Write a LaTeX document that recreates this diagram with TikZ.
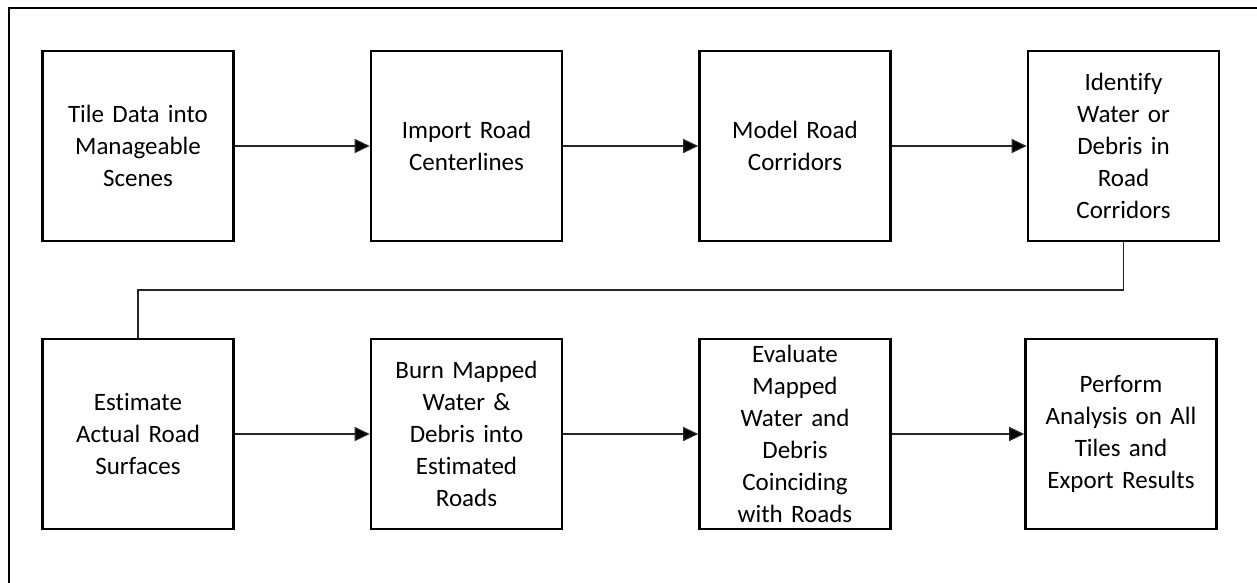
\documentclass[tikz,border=0pt]{standalone}
\usepackage{fontspec}
\setmainfont{Carlito}[Ligatures={NoCommon}]
\usetikzlibrary{arrows.meta}
\tikzset{
  stepbox/.style={draw=black, line width=2.6pt, fill=white,
    minimum width=191pt, minimum height=190pt, inner sep=4pt,
    align=center, text width=180pt,
    font=\fontsize{25}{32}\selectfont},
  flow/.style={draw=black!85, line width=1.2pt,
    -{Triangle[length=15pt,width=14pt,fill=black]}},
  link/.style={draw=black!85, line width=1.2pt}
}
\begin{document}
\begin{tikzpicture}[x=1pt,y=-1pt]
  \useasboundingbox (0,0) rectangle (1257,582);
  \clip (0,0) rectangle (1257,582);
  % frame
  \draw[line width=1.6pt] (9,8) rectangle (1275,600);

  % top row
  \node[stepbox] (a) at (138,146)   {Tile Data into\\Manageable\\Scenes};
  \node[stepbox] (b) at (466.5,146) {Import Road\\Centerlines};
  \node[stepbox] (c) at (795,146)   {Model Road\\Corridors};
  \node[stepbox] (d) at (1123.5,146){Identify\\Water or\\Debris in\\Road\\Corridors};

  % bottom row
  \node[stepbox] (e) at (138,434)   {Estimate\\Actual Road\\Surfaces};
  \node[stepbox] (f) at (466.5,434) {Burn Mapped\\Water \&\\Debris into\\Estimated\\Roads};
  \node[stepbox] (g) at (795,434)   {Evaluate\\Mapped\\Water and\\Debris\\Coinciding\\with Roads};
  \node[stepbox] (h) at (1121,434)  {Perform\\Analysis on All\\Tiles and\\Export Results};

  % connectors
  \draw[flow] (a) -- (b);
  \draw[flow] (b) -- (c);
  \draw[flow] (c) -- (d);
  \coordinate (turn) at (1123.5,290);
  \draw[link] (d.south) -- (turn) -| (e.north);
  \draw[flow] (e) -- (f);
  \draw[flow] (f) -- (g);
  \draw[flow] (g) -- (h);
\end{tikzpicture}
\end{document}
